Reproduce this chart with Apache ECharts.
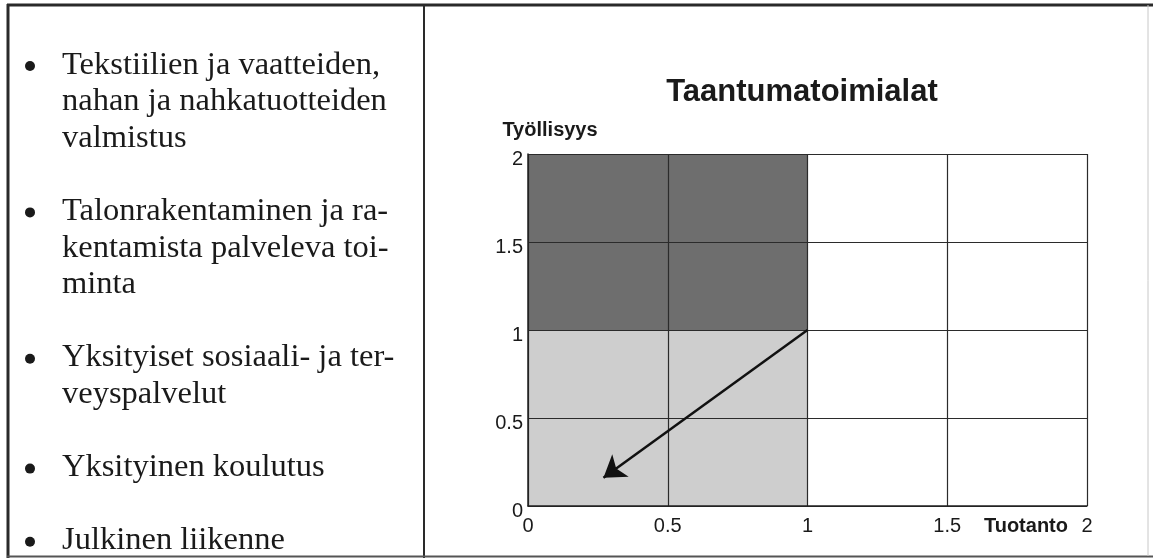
<!DOCTYPE html>
<html>
<head>
<meta charset="utf-8">
<script src="https://cdn.jsdelivr.net/npm/echarts@6/dist/echarts.min.js"></script>
<style>
  html, body { margin: 0; padding: 0; background: #fff; }
  #main { width: 1153px; height: 558px; }
</style>
</head>
<body>
<div id="main"></div>
<script>
// tekstit vasemmalle palstalle
var bulletItems = [
    ['Tekstiilien ja vaatteiden,', 'nahan ja nahkatuotteiden', 'valmistus'],
    ['Talonrakentaminen ja ra-', 'kentamista palveleva toi-', 'minta'],
    ['Yksityiset sosiaali- ja ter-', 'veyspalvelut'],
    ['Yksityinen koulutus'],
    ['Julkinen liikenne']
];

// kuvion alueet ja nuoli (x = tuotanto, y = työllisyys)
var axisTicks = [0, 0.5, 1, 1.5, 2];
var darkZone = [[0, 1], [1, 2]];
var lightZone = [[0, 0], [1, 1]];
var arrowFrom = [1, 1];
var arrowTo = [0.27, 0.16];

var myChart = echarts.init(document.getElementById('main'));

var serif = '"Liberation Serif", "Times New Roman", serif';
var sans = '"Liberation Sans", Arial, sans-serif';

// luettelo tekstiriveinä
var textEls = [];
var row = 0;
for (var i = 0; i < bulletItems.length; i++) {
    var lines = bulletItems[i];
    for (var j = 0; j < lines.length; j++) {
        var y = 65 + 36.6 * row;
        if (j === 0) {
            textEls.push({
                type: 'circle', shape: { cx: 30, cy: y + 1, r: 5 },
                style: { fill: '#1a1a1a' }
            });
        }
        textEls.push({
            type: 'text', x: 62, y: y,
            style: { text: lines[j], font: '32.5px ' + serif, fill: '#1a1a1a', align: 'left', verticalAlign: 'middle' }
        });
        row++;
    }
    row++;
}

// kehykset
var frame = [
    { type: 'line', shape: { x1: 7, y1: 5, x2: 1153, y2: 5 }, style: { stroke: '#2a2a2a', lineWidth: 3 } },
    { type: 'line', shape: { x1: 8, y1: 4, x2: 8, y2: 558 }, style: { stroke: '#2a2a2a', lineWidth: 3 } },
    { type: 'line', shape: { x1: 424, y1: 4, x2: 424, y2: 558 }, style: { stroke: '#2a2a2a', lineWidth: 2 } },
    { type: 'line', shape: { x1: 7, y1: 556.5, x2: 1153, y2: 556.5 }, style: { stroke: '#555', lineWidth: 2 } },
    { type: 'line', shape: { x1: 1148, y1: 5, x2: 1148, y2: 556 }, style: { stroke: '#c8c8c8', lineWidth: 1 } }
];

myChart.setOption({
    backgroundColor: '#fff',
    animation: false,
    title: {
        text: 'Taantumatoimialat',
        left: 797,
        textAlign: 'center',
        top: 72,
        textStyle: { fontFamily: sans, fontWeight: 'bold', fontSize: 31, color: '#1a1a1a' }
    },
    grid: { left: 528, top: 154, right: 66, bottom: 52 },
    xAxis: {
        type: 'value',
        min: axisTicks[0],
        max: axisTicks[axisTicks.length - 1],
        interval: 0.5,
        z: 3,
        name: 'Tuotanto',
        nameLocation: 'end',
        nameGap: -19,
        nameTextStyle: {
            fontFamily: sans, fontWeight: 'bold', fontSize: 20, color: '#1a1a1a',
            align: 'right', verticalAlign: 'top', padding: [10, 0, 0, 0]
        },
        axisLine: { show: true, onZero: false, lineStyle: { color: '#222', width: 1.5 } },
        axisTick: { show: false },
        splitLine: { show: true, lineStyle: { color: '#2b2b2b', width: 1.2 } },
        axisLabel: { fontFamily: sans, fontSize: 20, color: '#1a1a1a', margin: 10 }
    },
    yAxis: {
        type: 'value',
        min: axisTicks[0],
        max: axisTicks[axisTicks.length - 1],
        interval: 0.5,
        z: 3,
        name: 'Työllisyys',
        nameLocation: 'end',
        nameGap: 14,
        nameTextStyle: {
            fontFamily: sans, fontWeight: 'bold', fontSize: 20, color: '#1a1a1a',
            align: 'center', verticalAlign: 'bottom', padding: [0, 0, 0, 44]
        },
        axisLine: { show: true, onZero: false, lineStyle: { color: '#222', width: 1.5 } },
        axisTick: { show: false },
        splitLine: { show: true, lineStyle: { color: '#2b2b2b', width: 1.2 } },
        axisLabel: { fontFamily: sans, fontSize: 20, color: '#1a1a1a', margin: 5, verticalAlign: 'top', lineHeight: 10 }
    },
    series: [{
        type: 'line',
        z: 1,
        data: [],
        markArea: {
            silent: true,
            data: [
                [{ coord: darkZone[0], itemStyle: { color: '#6e6e6e' } }, { coord: darkZone[1] }],
                [{ coord: lightZone[0], itemStyle: { color: '#cecece' } }, { coord: lightZone[1] }]
            ]
        },
        markLine: {
            silent: true,
            symbol: ['none', 'arrow'],
            symbolSize: 21,
            label: { show: false },
            lineStyle: { color: '#111', width: 2.5, type: 'solid' },
            data: [[{ coord: arrowFrom }, { coord: arrowTo }]]
        }
    }],
    graphic: frame.concat(textEls)
});
</script>
</body>
</html>
